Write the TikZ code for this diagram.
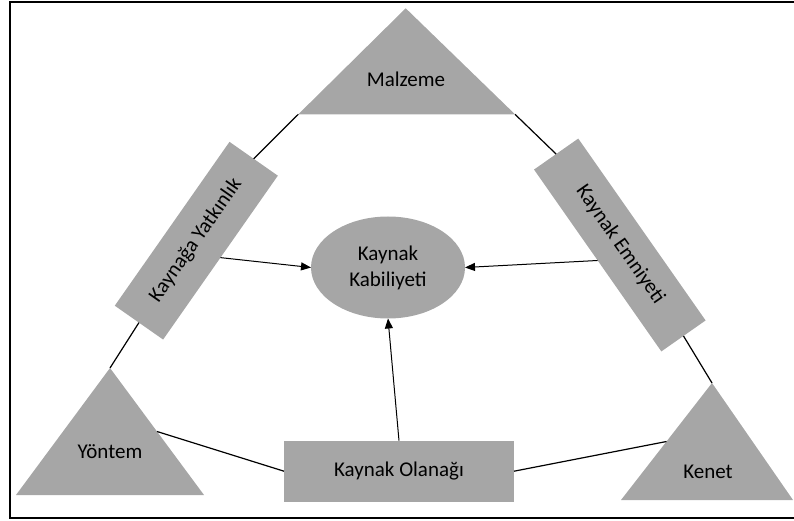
\documentclass[tikz,border=0pt]{standalone}
\usepackage{fontspec}
\setmainfont{Carlito}
\usetikzlibrary{shapes.geometric,arrows.meta,calc}
\definecolor{boxgray}{RGB}{166,166,166}
\begin{document}
\begin{tikzpicture}[x=1pt,y=-1pt,
  lbl/.style={font=\fontsize{21}{26}\selectfont, text height=14pt, text depth=4pt, inner sep=0pt, outer sep=0pt},
  rbox/.style={lbl, fill=boxgray, minimum width=#1, anchor=center},
  oval/.style={fill=boxgray, ellipse, inner sep=0pt, outer sep=0pt, minimum width=154pt, minimum height=102pt, align=center, font=\fontsize{21}{26}\selectfont},
  link/.style={draw=black, line width=1.2pt},
  arr/.style={draw=black, line width=1pt, -{Triangle[length=10pt,width=8pt]}}
]
\useasboundingbox (0,0) rectangle (794,521);

% frame, open on the right
\draw[line width=2pt] (794,2.3) -- (10,2.3) -- (10,517.8) -- (794,517.8);

% triangle corners
\coordinate (mzA) at (405.7,8.3);
\coordinate (mzL) at (298.3,114.3);
\coordinate (mzR) at (515,114.3);
\coordinate (ytA) at (110,368);
\coordinate (ytL) at (16,495);
\coordinate (ytR) at (204,495);
\coordinate (knA) at (712,383);
\coordinate (knL) at (621,500);
\coordinate (knR) at (793,500);
\coordinate (ytM) at ($(ytA)!0.5!(ytR)$);
\coordinate (knM) at ($(knA)!0.5!(knL)$);

% triangles
\fill[boxgray] (mzL) -- (mzA) -- (mzR) -- cycle;
\fill[boxgray] (ytL) -- (ytA) -- (ytR) -- cycle;
\fill[boxgray] (knL) -- (knA) -- (knR) -- cycle;
\node[lbl] (malz) at (406,82) {Malzeme};
\node[lbl] (yont) at (110,453) {Yöntem};
\node[lbl] (kenet) at (708,473) {Kenet};

% boxes
\node[rbox=200pt, minimum height=59pt, rotate=55] (yat) at (196.3,240.7) {Kaynağa Yatkınlık};
\node[rbox=222pt, minimum height=54pt, rotate=-55] (emn) at (619.8,245) {Kaynak Emniyeti};
\node[rbox=230pt, minimum height=61pt] (olan) at (399,471.2) {Kaynak Olanağı};
\node[oval] (kab) at (388,267.5) {Kaynak\\Kabiliyeti};

% outer ring of links
\draw[link] (mzL) -- (yat.east);
\draw[link] (yat.west) -- (ytA);
\draw[link] (mzR) -- (emn.west);
\draw[link] (emn.east) -- (knA);
\draw[link] (ytM) -- (olan.west);
\draw[link] (olan.east) -- (knM);

% arrows into the centre
\draw[arr] (yat.south) -- (kab.west);
\draw[arr] (emn.south) -- (kab.east);
\draw[arr] (olan.north) -- (kab.south);
\end{tikzpicture}
\end{document}
